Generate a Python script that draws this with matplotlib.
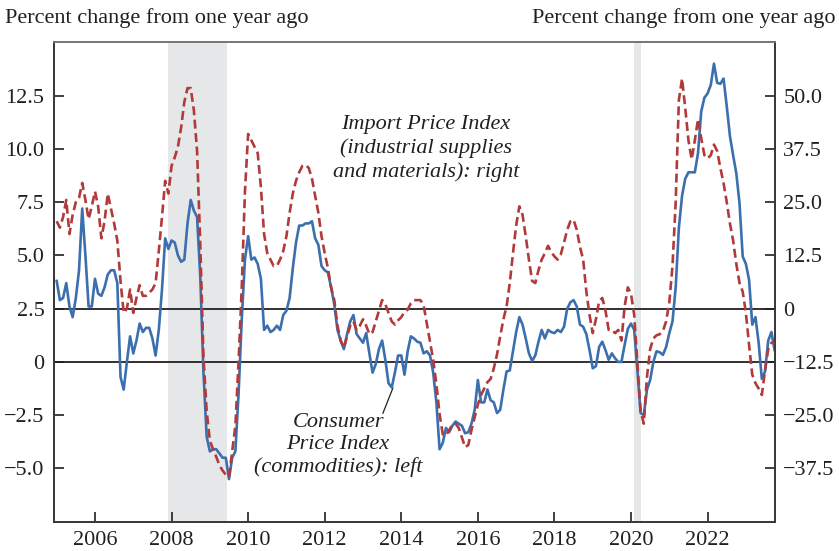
"""
CPI commodities vs import prices of industrial supplies, year-over-year change
"""

import matplotlib
matplotlib.use('Agg')
import matplotlib.pyplot as plt
import numpy as np

# monthly readings, Jan 2005 onward
START_YEAR = 2005
cpi_commodities = [
    3.8, 2.9, 3.0, 3.7, 2.6, 2.1, 3.0, 4.3, 7.2, 5.0, 2.6, 2.6,
    3.9, 3.2, 3.1, 3.5, 4.1, 4.3, 4.3, 3.7, -0.7, -1.3, 0.0, 1.2,
    0.4, 1.0, 1.8, 1.4, 1.6, 1.6, 1.1, 0.3, 1.5, 3.4, 5.8, 5.3,
    5.7, 5.6, 5.0, 4.7, 4.8, 6.5, 7.6, 7.1, 6.8, 4.0, -0.5, -3.5,
    -4.2, -4.1, -4.1, -4.3, -4.5, -4.5, -5.5, -4.5, -4.2, -1.5, 2.0, 4.8,
    5.9, 4.8, 4.9, 4.6, 3.9, 1.5, 1.7, 1.4, 1.5, 1.7, 1.5, 2.2,
    2.4, 3.0, 4.4, 5.6, 6.4, 6.4, 6.5, 6.5, 6.6, 5.8, 5.5, 4.5,
    4.3, 4.2, 3.5, 2.7, 1.5, 1.0, 0.6, 1.3, 1.9, 2.2, 1.3, 1.1,
    0.9, 1.35, 0.4, -0.5, -0.1, 0.6, 1.0, 0.1, -1.0, -1.2, -0.5, 0.3,
    0.3, -0.6, 0.5, 1.2, 1.1, 0.95, 0.9, 0.4, 0.5, 0.3, -0.5, -1.9,
    -4.1, -3.8, -3.1, -3.3, -3.0, -2.8, -2.9, -3.0, -3.35, -3.3, -2.9, -2.25,
    -0.85, -1.9, -1.9, -1.3, -1.8, -1.9, -2.4, -2.25, -1.3, -0.45, -0.4, 0.5,
    1.4, 2.1, 1.75, 1.1, 0.4, 0.05, 0.3, 0.95, 1.5, 1.1, 1.5, 1.4,
    1.35, 1.5, 1.4, 1.65, 2.5, 2.8, 2.9, 2.6, 1.75, 1.65, 1.3, 0.55,
    -0.3, -0.2, 0.7, 0.95, 0.55, 0.1, 0.4, 0.17, 0.0, 0.0, 0.8, 1.55,
    1.8, 1.5, -0.4, -2.4, -2.5, -1.3, -0.85, 0.0, 0.5, 0.45, 0.33, 0.7,
    1.35, 1.9, 3.5, 6.3, 7.8, 8.6, 8.9, 8.9, 8.9, 9.8, 11.75, 12.4,
    12.6, 13.0, 14.0, 13.1, 13.05, 13.3, 12.0, 10.6, 9.7, 8.85, 7.45, 4.95,
    4.6, 3.85, 1.75, 2.1, 0.9, -0.8, -0.45, 1.0, 1.4, 0.55,
]
import_prices = [
    20.5, 19.0, 21.5, 25.5, 17.5, 22.0, 25.0, 26.0, 29.5, 25.5, 21.0, 24.0,
    27.5, 24.0, 16.5, 20.5, 27.0, 23.5, 20.0, 16.0, 6.5, -1.0, 0.0, 4.5,
    -1.0, 2.5, 5.5, 3.0, 3.0, 3.75, 4.5, 6.0, 13.5, 21.5, 30.0, 27.0,
    33.5, 35.5, 38.0, 42.5, 48.5, 51.75, 51.75, 46.5, 37.0, 15.0, -11.5, -24.0,
    -31.0, -33.0, -34.75, -36.75, -38.0, -39.0, -39.5, -33.5, -27.5, -12.5, 5.0, 27.5,
    41.0, 39.5, 38.0, 36.5, 28.5, 17.5, 13.0, 11.5, 10.0, 10.0, 11.5, 13.5,
    17.0, 22.5, 27.0, 30.0, 32.0, 33.5, 33.75, 33.0, 30.5, 26.5, 22.5, 17.0,
    13.0, 9.5, 5.0, 2.0, -4.0, -7.5, -9.25, -6.5, -4.0, -3.0, -5.0, -4.0,
    -2.5, -4.0, -6.0, -5.5, -3.0, -0.5, 2.0, 1.0, -1.0, -3.0, -3.75, -2.75,
    -2.0, -0.75, -0.25, 1.25, 2.0, 2.0, 2.0, 0.75, -3.5, -7.75, -12.0, -17.75,
    -24.75, -29.5, -29.75, -28.5, -27.25, -27.0, -28.0, -30.25, -32.5, -32.0, -28.5, -25.5,
    -22.5, -20.25, -18.75, -17.25, -16.5, -14.0, -10.75, -6.5, -2.5, 0.5, 6.0, 13.0,
    19.5, 24.0, 22.0, 17.0, 11.5, 6.5, 6.0, 9.0, 11.5, 13.0, 14.75, 13.25,
    12.25, 11.5, 12.75, 15.5, 18.5, 20.5, 20.85, 18.5, 14.5, 11.5, 4.0, -1.5,
    -5.75, -2.5, 1.75, 2.5, -0.5, -5.0, -5.0, -5.75, -5.0, -7.5, 0.5, 5.0,
    3.5, -1.5, -13.0, -24.0, -27.0, -16.0, -9.5, -7.0, -6.25, -6.0, -5.25, -3.0,
    1.5, 10.0, 25.0, 49.0, 54.0, 47.0, 39.5, 35.0, 39.5, 44.5, 40.0, 36.0,
    35.25, 36.0, 38.5, 37.0, 33.0, 29.5, 25.0, 20.0, 16.0, 10.5, 6.0, 4.0,
    -1.0, -8.5, -15.5, -17.5, -18.75, -20.25, -14.5, -9.5, -8.0, -8.0,
]
recessions = [(2007.92, 2009.44), (2020.08, 2020.27)]
left_ticks = [-5.0, -2.5, 0, 2.5, 5.0, 7.5, 10.0, 12.5]
right_ticks = [-37.5, -25.0, -12.5, 0, 12.5, 25.0, 37.5, 50.0]
year_ticks = [2006, 2008, 2010, 2012, 2014, 2016, 2018, 2020, 2022]

BLUE = '#3b6fae'
RED = '#b23a3a'
INK = '#231f20'

plt.rcParams['font.family'] = ['Liberation Serif', 'DejaVu Serif']
plt.rcParams['font.size'] = 16


def fmt(v):
  if v == 0:
    return '0'
  return f'{v:.1f}'.replace('-', '\u2212')


def plot(outfile):
  fig = plt.figure(figsize=(8.39, 5.51), dpi=100)
  ax = fig.add_axes([0.0647, 0.0532, 0.859, 0.870])
  ax2 = ax.twinx()

  years = START_YEAR + np.arange(len(cpi_commodities)) / 12.0
  years2 = START_YEAR + np.arange(len(import_prices)) / 12.0

  for a, b in recessions:
    ax.axvspan(a, b, color='#e6e7e8', lw=0, zorder=0)
  ax.axhline(0, color=INK, lw=1.3, zorder=1)
  ax.axhline(2.5, color=INK, lw=1.3, zorder=1)

  ax.plot(years, cpi_commodities, color=BLUE, lw=1.9, zorder=3)
  ax2.plot(years2, import_prices, color=RED, lw=1.9,
           linestyle=(0, (3.4, 1.7)), zorder=3)

  ax.set_xlim(2004.937, 2023.76)
  ax.set_ylim(-7.5, 15.0)
  ax2.set_ylim(-50.0, 62.5)

  ax.set_yticks(left_ticks)
  ax.set_yticklabels([fmt(v) for v in left_ticks])
  ax2.set_yticks(right_ticks)
  ax2.set_yticklabels([fmt(v) for v in right_ticks])
  ax.set_xticks(year_ticks)
  ax.set_xticklabels([str(y) for y in year_ticks])

  ax.tick_params(axis='y', direction='in', length=7, width=1.2, pad=7,
                 colors=INK, labelsize=16)
  ax.tick_params(axis='x', direction='in', length=7, width=1.2, pad=7,
                 colors=INK, labelsize=16)
  ax2.tick_params(axis='y', direction='in', length=7, width=1.2, pad=6,
                  colors=INK, labelsize=16)
  for a in (ax, ax2):
    for s in a.spines.values():
      s.set_color('#3a3a3a')
      s.set_linewidth(1.3)
  ax.spines['top'].set_color('#777777')
  ax2.spines['top'].set_color('#777777')

  fig.text(5 / 839, 1 - 18 / 551, 'Percent change from one year ago',
           ha='left', va='center', fontsize=16, color=INK)
  fig.text(836 / 839, 1 - 18 / 551, 'Percent change from one year ago',
           ha='right', va='center', fontsize=16, color=INK)

  ax.text(2014.64, 10.0, 'Import Price Index\n(industrial supplies\nand materials): right',
          ha='center', va='center', style='italic', fontsize=16,
          color=INK, linespacing=1.3)
  ax.text(2012.35, -3.9, 'Consumer\nPrice Index\n(commodities): left',
          ha='center', va='center', style='italic', fontsize=16,
          color=INK, linespacing=1.2)
  ax.plot([2013.52, 2013.78], [-2.41, -1.23], color=INK, lw=0.9, zorder=2)

  plt.savefig(outfile, dpi=100)
  plt.close()


def main():
  plot('out.png')


if __name__ == "__main__":
  main()
